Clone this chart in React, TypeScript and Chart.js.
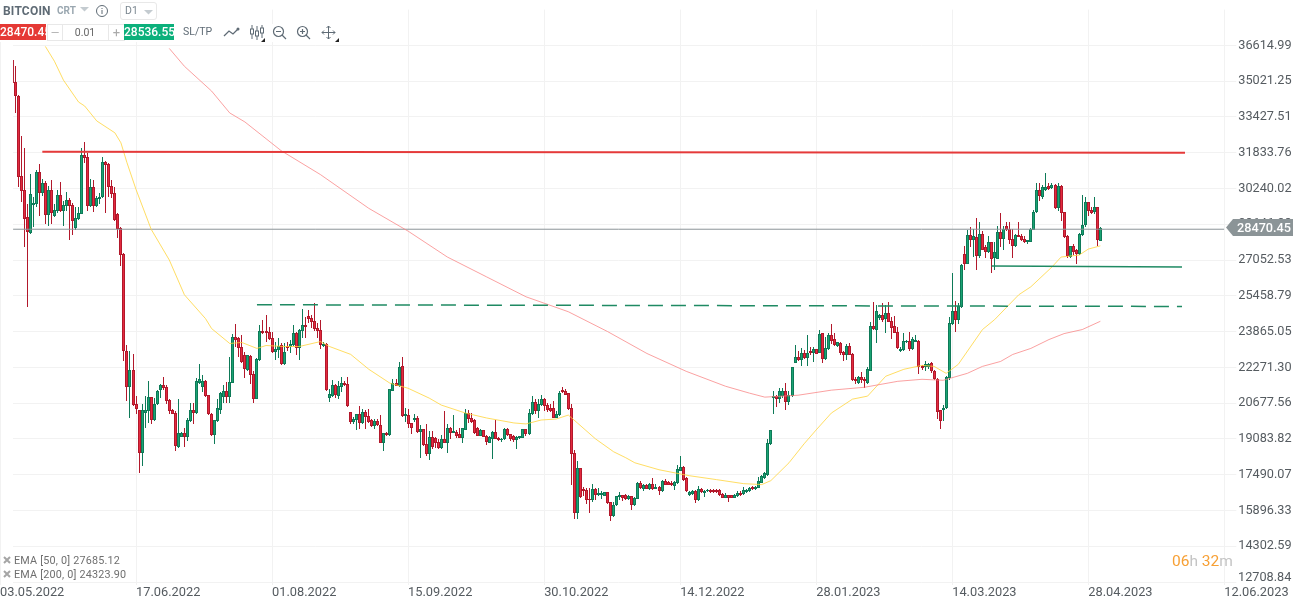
import React, { useEffect, useRef } from "react";
import { Chart, registerables } from "chart.js";

Chart.register(...registerables);

// Day number counted from 03.05.2022
const firstCandleDay = 4;

// [open, high, low, close]
const candles: number[][] = [
  [35950,35950,34700,34930],[34980,35690,33600,34360],[34360,34400,30290,30770],[30800,32570,29650,30140],
  [30180,32060,27630,28880],[28990,29550,24940,28290],[28260,30890,28220,30000],[29500,29840,28510,29610],
  [29550,31070,29400,30980],[30980,31320,29000,30030],[30030,30680,29920,30490],[30490,30580,28660,29060],
  [29060,30360,28560,30180],[30180,30620,28660,29150],[29030,29550,28960,29300],[29220,30180,29150,29960],
  [29960,30540,29210,29240],[29240,29700,28560,29500],[29440,30090,29250,29740],[29740,29810,27950,29470],
  [29520,29590,28150,28770],[28490,29400,28410,28930],[28880,29400,28850,29160],[29120,32060,29090,31730],
  [31730,32320,31390,31600],[31630,31835,29220,29470],[29470,30650,29400,30310],[30310,30610,29180,29470],
  [29440,29920,29400,29800],[29770,30060,29550,29860],[29860,31660,29830,31420],[31420,31470,29150,31290],
  [31330,31390,29840,30310],[30360,30610,29800,29990],[30050,30285,28810,28840],[29120,29150,28030,28440],
  [28490,28510,26790,27260],[27300,27360,22540,22980],[23000,23250,20770,21400],[21400,22980,20030,22170],
  [22170,22880,20560,20590],[20620,20990,20180,20430],[20350,20380,17550,18440],[18440,20620,17890,20350],
  [20250,20990,19590,20350],[20320,21650,19810,20940],[20940,20970,19730,19910],[19910,20910,19880,20650],
  [20620,21280,20590,21240],[21280,21550,20910,21500],[21500,21830,21280,21330],[21390,21500,20620,20770],
  [20800,20840,20180,20320],[20350,20400,20180,20210],[20250,20320,18550,18775],[18745,20840,18700,19340],
  [19170,19390,19150,19340],[19340,19590,18745,19190],[19190,20030,19000,19910],[19880,20690,19850,20350],
  [20350,20690,19730,20250],[20250,21800,20210,21650],[21580,22430,21550,21770],[21400,21950,21180,21680],
  [21680,21710,20960,20990],[21020,21050,20150,20180],[20210,20240,19220,19280],[19260,19940,18850,19910],
  [19880,20840,19850,20440],[20370,21165,20180,21140],[20970,21505,20690,21210],[21210,21620,20690,20960],
  [20960,22715,20690,21640],[21590,23750,21580,23645],[23615,24205,23200,23510],[23585,23615,22715,23130],
  [23190,23720,22480,22510],[22800,22935,21800,22200],[22170,22830,22095,22800],[22775,22800,21535,21950],
  [21990,22095,20690,20870],[20870,22685,20840,22655],[22610,24160,22570,23895],[23895,24380,23760,23790],
  [23895,24600,23420,23790],[23850,24090,23500,23525],[23570,23865,22910,22950],[22950,23420,22580,23100],
  [23055,23600,22685,23245],[23260,23350,22390,22420],[22420,23350,22390,22935],[23215,23420,22980,23130],
  [23170,23500,22910,23320],[23275,24160,23245,23805],[23805,23865,22830,23130],[23130,23970,22610,23940],
  [23895,24870,23570,24160],[24175,24530,23570,24060],[24560,24825,24235,24410],[24455,24600,24015,24280],
  [24340,25150,23895,23985],[24030,24235,23570,23880],[23940,24380,23100,23275],[23215,23420,23200,23320],
  [23320,23350,21240,21270],[20915,21285,20740,21105],[20990,21725,20945,21505],[21505,21535,20915,21020],
  [20990,21650,20840,21445],[21400,21830,21180,21590],[21590,21680,21430,21475],[21550,21830,20500,20560],
  [20265,20295,19765,19825],[19825,20060,19765,19955],[19910,20210,19470,20180],[20180,20545,19515,19810],
  [19810,20400,19765,20265],[20265,20355,19515,20060],[20090,20400,19795,19850],[19940,19985,19615,19675],
  [19675,19955,19515,19880],[19880,19955,19645,19690],[19705,20145,18895,18920],[18920,19365,18525,19335],
  [19335,19410,19205,19245],[19260,21315,19230,21285],[21240,21770,21210,21565],[21565,21770,21430,21460],
  [21430,22495,21400,22300],[22330,22730,20060,20090],[20090,20470,19840,20180],[20160,20400,19560,19765],
  [19810,19810,19320,19555],[19910,20205,19850,20000],[20015,20100,19350,19395],[19380,19705,18230,19515],
  [19515,19515,18775,18805],[18835,19735,18300,18405],[18405,19440,18140,19175],[19175,19440,18625,18730],
  [19145,19175,18700,18920],[18950,19070,18655,18670],[18670,19260,18640,19070],[19070,20325,18890,18920],
  [18920,19735,18435,19585],[19585,19615,19070,19365],[19365,20145,19335,19440],[19410,19470,19145,19230],
  [19290,19585,19115,19145],[19145,19585,18880,19555],[19480,20430,19470,20250],[20250,20355,19810,19985],
  [20030,20250,19810,19850],[19910,19985,19320,19365],[19585,19615,19220,19230],[19230,19515,19220,19470],
  [19470,19500,19175,19190],[19230,19260,18820,18935],[18920,19220,18880,19175],[19070,19440,18170,19380],
  [19380,19910,19070,19100],[19145,19175,18995,19025],[19025,19145,18965,19100],[19070,19555,19025,19515],
  [19515,19585,19220,19260],[19290,19320,18995,19070],[19220,19245,18965,19025],[19025,19220,18655,19175],
  [19145,19220,19100,19205],[19145,19540,19115,19515],[19515,19540,19220,19290],[19290,20400,19260,20235],
  [20175,20990,20145,20710],[20710,20840,20205,20325],[20325,20840,20030,20620],[20575,21030,20545,20855],
  [20855,20915,20325,20530],[20575,20695,20295,20355],[20470,20620,20295,20325],[20440,20765,20000,20030],
  [20030,20325,20000,20175],[20145,21240,20120,21120],[21270,21400,21150,21180],[21240,21285,21030,21060],
  [21120,21150,20355,20400],[20440,20620,17050,18405],[18435,18580,15515,15780],[15780,18110,15530,17770],
  [17770,17800,16460,16490],[16840,16930,16520,16750],[16810,16900,16190,16370],[16400,16900,15780,16340],
  [16340,17080,16265,16855],[16855,16900,16370,16590],[16590,16900,16520,16680],[16575,16750,16415,16665],
  [16560,16740,16530,16710],[16710,16740,16190,16220],[16265,16295,15425,15660],[15645,16265,15600,16150],
  [16120,16545,16075,16520],[16490,16710,16340,16605],[16590,16605,16310,16430],[16575,16635,16370,16385],
  [16385,16590,16370,16530],[16530,16560,15925,16135],[16135,16490,16105,16460],[16415,17180,16385,17120],
  [17120,17225,16870,16900],[16870,17080,16755,17050],[17035,17080,16840,16870],[16855,17110,16810,17080],
  [17080,17345,16825,16855],[16855,17080,16840,16960],[16960,17005,16605,16755],[16755,17255,16725,17225],
  [17225,17300,17020,17050],[17180,17225,17020,17050],[17135,17225,16990,17020],[17005,17225,16825,17180],
  [17105,17920,17080,17740],[17670,18330,17640,17815],[17845,17875,17225,17270],[17345,17375,16710,16785],
  [16575,16755,16560,16710],[16635,16810,16605,16785],[16785,16810,16250,16340],[16340,17005,16310,16855],
  [16855,16885,16665,16710],[16665,16810,16515,16785],[16755,16870,16710,16825],[16810,16855,16695,16725],
  [16810,16840,16695,16725],[16810,16840,16695,16725],[16810,16855,16560,16605],[16635,16665,16430,16460],
  [16460,16665,16430,16575],[16575,16605,16295,16460],[16575,16590,16430,16460],[16460,16620,16430,16575],
  [16530,16755,16515,16695],[16680,16755,16545,16575],[16635,16960,16605,16825],[16725,16855,16695,16825],
  [16755,16960,16725,16900],[16960,16990,16810,16840],[16840,16975,16825,16945],[16900,17400,16900,17225],
  [17135,17460,17105,17430],[17345,17595,17315,17550],[17490,19100,17445,18920],[18850,19500,18820,19470],
  [20885,21210,20205,20975],[20990,21030,20500,20840],[20840,21355,20690,21210],[20990,21355,20915,21210],
  [21210,21595,20385,20740],[20740,21210,20590,21060],[20975,22300,20945,22270],[22465,23275,22465,22745],
  [22745,22980,22570,22580],[22610,23130,22315,22920],[22920,23055,22655,22685],[22685,23720,22315,22920],
  [22980,23200,22830,22890],[22890,23200,22510,23100],[23070,23100,22860,22880],[22910,23940,22910,23760],
  [23790,23820,22465,22640],[22640,23645,22610,23140],[23085,23790,23055,23720],[23720,24205,23305,23465],
  [23525,23790,23245,23275],[23245,23420,23200,23380],[23365,23395,22800,22890],[22950,23010,22570,22800],
  [22800,23305,22580,23245],[23245,23350,22800,22830],[22880,22910,21650,21710],[21770,21830,21535,21650],
  [21580,21875,21535,21830],[21830,22065,21580,21725],[21770,21830,21355,21650],[21580,22270,21535,22200],
  [22125,24280,22095,24130],[24130,25195,23940,23985],[23940,25045,23350,24795],[24455,24635,24380,24600],
  [24600,25120,24310,24380],[24425,25045,23790,24710],[24710,25195,24280,24310],[24355,24530,23525,24045],
  [24100,24575,23790,23805],[23850,24090,23100,23130],[23010,23160,22950,23100],[23040,23790,23010,23455],
  [23380,23500,23350,23455],[23455,23835,23010,23085],[23085,23645,23040,23540],[23420,23720,23395,23500],
  [23455,23480,21975,22270],[22330,22360,22155,22240],[22270,22540,22095,22420],[22300,22465,22215,22420],
  [22465,22495,22020,22095],[22125,22155,21725,21770],[21770,21800,19955,20295],[20355,20385,19540,19880],
  [20370,20605,19865,20470],[20440,21875,20410,21845],[21785,24530,21725,24235],[24205,26480,24160,24780],
  [24780,25225,23865,24380],[24380,25150,24205,25000],[24955,26890,24910,26845],[27305,27675,26625,26890],
  [26890,28395,26860,28175],[28175,28515,27630,27950],[27950,28440,27185,28145],[28070,28910,26625,27215],
  [27215,28735,27155,28220],[28220,28365,27480,27510],[27630,27730,27155,27390],[27390,28145,27360,27835],
  [27835,27865,26490,27110],[27155,27850,26595,27405],[27110,28590,27110,28320],[28290,29135,27630,28010],
  [28010,28590,27480,28440],[28590,28765,28365,28410],[28440,28735,27775,27950],[27995,28440,27155,27660],
  [27660,28220,27630,28175],[28190,28735,28070,28100],[28145,28220,27895,27925],[27980,28145,27805,27835],
  [27835,27950,27775,27925],[27850,28485,27850,28440],[28410,29280,28395,29205],[29180,30505,29150,30180],
  [30180,30505,29695,29915],[29870,30400,29770,30285],[30180,30950,30135,30315],[30360,30505,30165,30210],
  [30240,30505,30210,30400],[30400,30430,29340,29370],[29370,30505,29250,30360],[30360,30390,28810,29150],
  [29180,29210,28040,28100],[28145,28175,27155,27215],[27185,27700,27155,27660],[27660,27775,27260,27405],
  [27480,27555,26890,27335],[27305,28250,27275,28220],[28160,29960,28145,28630],[28600,29840,28545,29620],
  [29620,29650,29030,29250],[29280,29400,29105,29150],[29180,29870,29105,29400],[29400,29430,27660,27925],
  [27895,28545,27895,28470],
];

const ema50Days = [15,18,21,26,28,32,38,40,42,45,50,56,61,68,70,76,80,85,88,94,99,106,109,116,122,129,135,142,146,154,161,170,174,179,184,188,191,197,203,207,210,218,228,237,246,252,255,261,266,270,275,282,287,293,299,305,309,313,317,325,329,337,341,348,351,357,360,364];
const ema50Values = [36570,35910,35065,34090,33915,33250,32720,32275,31390,30195,28425,27055,25505,24440,24000,23335,23380,23115,23245,23200,23200,23420,23200,22850,22185,21565,21340,20900,20590,20235,20015,19795,19750,19925,19970,20145,19795,19085,18510,18245,18020,17710,17445,17270,17090,17050,17225,18020,18865,19485,20235,20855,20990,21875,22185,22360,22315,22005,22405,23955,24395,25505,25860,26745,27185,27275,27540,27685];

const ema200Days = [56,61,70,76,81,93,106,122,135,148,161,174,188,201,214,227,240,248,253,264,275,286,297,305,312,320,325,331,335,341,347,352,358,364];
const ema200Values = [36480,35685,34580,33605,33205,31925,30860,29355,28340,27185,26300,25415,24750,23865,22890,22095,21430,21120,20945,21030,21255,21385,21650,21740,21695,22005,22315,22535,22845,23115,23510,23775,23955,24324];

const resistanceDays = [14, 392];
const resistanceValues = [31879, 31834];
const supportDays = [328, 391];
const supportValues = [26788, 26745];
const dashedDays = [85, 391];
const dashedValues = [25060, 24985];
const priceLineDays = [4.32, 405];
const priceLineValues = [28425, 28425];

const yTicks = [12708.84,14302.59,15896.33,17490.07,19083.82,20677.56,22271.30,23865.05,25458.79,27052.53,28646.28,30240.02,31833.76,33427.51,35021.25,36614.99];
const xTickDays = [0,45,90,135,180,225,270,315,360,405];
const xTickLabels = ["03.05.2022","17.06.2022","01.08.2022","15.09.2022","30.10.2022","14.12.2022","28.01.2023","14.03.2023","28.04.2023","12.06.2023"];

const RED_FILL = "#e32a3f";
const RED_DARK = "#b2182b";
const GREEN_FILL = "#1aa373";
const GREEN_DARK = "#0e7a58";
const FONT = "Roboto, sans-serif";

const pts = (xs: number[], ys: number[]) => xs.map((x, i) => ({ x, y: ys[i] }));

const snapBars = {
  id: "snapBars",
  beforeDatasetsDraw(chart: any) {
    chart.data.datasets.forEach((d: any, i: number) => {
      if (d.type !== "bar") return;
      chart.getDatasetMeta(i).data.forEach((el: any) => {
        el.x = Math.floor(el.x) + 0.5;
        el.y = Math.round(el.y);
        el.base = Math.round(el.base);
      });
    });
  },
};

const abs = (left: number, top: number, extra: React.CSSProperties = {}): React.CSSProperties => ({
  position: "absolute", left, top, whiteSpace: "nowrap", fontFamily: FONT, ...extra,
});

const Tri = ({ x, y }: { x: number; y: number }) => (
  <svg style={abs(x, y)} width={9} height={5}><polygon points="0,0 9,0 4.5,4.5" fill="#c4cbd0" /></svg>
);
const Corner = ({ x, y }: { x: number; y: number }) => (
  <svg style={abs(x, y)} width={4} height={4}><polygon points="4,0 4,4 0,4" fill="#222" /></svg>
);
const CloseMark = ({ y }: { y: number }) => (
  <svg style={abs(3, y)} width={8} height={8}>
    <path d="M1 1 L7 7 M7 1 L1 7" stroke="#a5a5a5" strokeWidth={2} />
  </svg>
);

export default function App() {
  const ref = useRef<HTMLCanvasElement>(null);
  useEffect(() => {
    const ctx = ref.current;
    if (!ctx) return;
    const days = candles.map((_, i) => firstCandleDay + i);
    const isUp = candles.map((c) => c[3] >= c[0]);
    const chart = new Chart(ctx, {
      type: "bar",
      plugins: [snapBars],
      data: {
        datasets: [
          {
            type: "bar", order: 4, barThickness: 1, grouped: false, inflateAmount: 0,
            data: candles.map((c, i) => ({ x: days[i], y: [c[2], c[1]] })),
            backgroundColor: isUp.map((u) => (u ? GREEN_DARK : RED_DARK)),
            borderWidth: 0,
          },
          {
            type: "bar", order: 3, barThickness: 3, grouped: false, inflateAmount: 0,
            data: candles.map((c, i) => ({ x: days[i], y: [c[0], c[3]] })),
            backgroundColor: isUp.map((u) => (u ? GREEN_FILL : RED_FILL)),
            borderColor: isUp.map((u) => (u ? GREEN_DARK : RED_DARK)),
            borderWidth: 1, borderSkipped: false,
          },
          { type: "line", order: 2, data: pts(priceLineDays, priceLineValues), borderColor: "#8b9497", borderWidth: 1, pointRadius: 0 },
          { type: "line", order: 1, data: pts(ema200Days, ema200Values), borderColor: "rgba(248,130,130,0.75)", borderWidth: 1, pointRadius: 0 },
          { type: "line", order: 1, data: pts(ema50Days, ema50Values), borderColor: "rgba(255,212,60,0.8)", borderWidth: 1, pointRadius: 0 },
          { type: "line", order: 0, data: pts(resistanceDays, resistanceValues), borderColor: "#e53a3a", borderWidth: 2, pointRadius: 0 },
          { type: "line", order: 0, data: pts(supportDays, supportValues), borderColor: "#1f8a63", borderWidth: 1.5, pointRadius: 0 },
          { type: "line", order: 0, data: pts(dashedDays, dashedValues), borderColor: "#1f8a63", borderWidth: 1.5, borderDash: [15, 8], pointRadius: 0 },
        ] as any,
      },
      options: {
        animation: false,
        responsive: false,
        devicePixelRatio: 1,
        layout: { padding: { top: 6, left: 0, right: 0, bottom: 0 } },
        plugins: { legend: { display: false }, tooltip: { enabled: false } },
        scales: {
          x: {
            type: "linear",
            offset: false,
            min: 4.32,
            max: 405,
            afterBuildTicks: (s: any) => { s.ticks = xTickDays.map((value) => ({ value })); },
            afterFit: (s: any) => { s.height = 14; },
            grid: { offset: false, color: "#f2f2f2", lineWidth: 1, tickLength: 3, drawTicks: true },
            border: { display: false },
            ticks: {
              autoSkip: false, maxRotation: 0, align: "start", padding: 0, color: "#555b60",
              font: { family: FONT, size: 12.8 },
              callback: (_v: any, i: number) => xTickLabels[i],
            },
          },
          y: {
            type: "linear",
            position: "right",
            min: 12708.84,
            max: 38208.7,
            afterBuildTicks: (s: any) => { s.ticks = yTicks.map((value) => ({ value })); },
            afterFit: (s: any) => { s.width = 75.7; },
            grid: { color: "#f2f2f2", lineWidth: 1, tickLength: 12 },
            border: { display: false },
            ticks: {
              autoSkip: false, padding: 2, color: "#555b60",
              font: { family: FONT, size: 12.7 },
              callback: (v: any) => (Number(v) === yTicks[0] ? "" : Number(v).toFixed(2)),
            },
          },
        },
      } as any,
    });
    return () => chart.destroy();
  }, []);

  const grey = "#5f6b75";
  return (
    <div style={{ position: "fixed", left: 0, top: 0, width: 1300, height: 596, background: "#fff", overflow: "hidden" }}>
      <canvas ref={ref} width={1300} height={596} style={{ display: "block", position: "absolute", left: 0, top: 0 }} />

      <div style={abs(0, 0, { width: 160, height: 24, background: "#fff" })} />
      <div style={abs(0, 24, { width: 340, height: 18, background: "#fff" })} />

      <div style={abs(3, 4, { fontSize: 12, fontWeight: 700, color: grey, letterSpacing: 0.2 })}>BITCOIN</div>
      <div style={abs(57, 5, { fontSize: 10, fontWeight: 700, color: "#9aa7b0" })}>CRT</div>
      <Tri x={80} y={7} />
      <svg style={abs(95, 4)} width={14} height={14}>
        <circle cx={7} cy={7} r={5.5} fill="none" stroke={grey} strokeWidth={1} />
        <path d="M7 6 V10 M7 4 V5" stroke={grey} strokeWidth={1} />
      </svg>
      <div style={abs(120, 2, { width: 35, height: 16, border: "1px solid #e8e8e8", borderRadius: 3 })} />
      <div style={abs(125, 4, { fontSize: 10.5, color: "#7b8790" })}>D1</div>
      <Tri x={144} y={10} />

      <div style={abs(0, 24, { width: 46, height: 16, background: "#e53935", color: "#fff", fontSize: 12, fontWeight: 500, lineHeight: "16px", textAlign: "center" })}>28470.45</div>
      <div style={abs(47, 24, { width: 14, height: 15, border: "1px solid #e8e8e8", color: "#aaa", fontSize: 11, lineHeight: "15px", textAlign: "center" })}>—</div>
      <div style={abs(62, 24, { width: 46, height: 15, borderTop: "1px solid #e8e8e8", borderBottom: "1px solid #e8e8e8", color: "#666", fontSize: 10.5, lineHeight: "16px", textAlign: "center" })}>0.01</div>
      <div style={abs(108, 24, { width: 15, height: 15, border: "1px solid #e8e8e8", color: "#aaa", fontSize: 13, lineHeight: "15px", textAlign: "center" })}>+</div>
      <div style={abs(124, 24, { width: 50, height: 16, background: "#0bb07b", color: "#fff", fontSize: 12, fontWeight: 500, lineHeight: "16px", textAlign: "center" })}>28536.55</div>
      <div style={abs(183, 25, { fontSize: 10.5, color: grey })}>SL/TP</div>

      <svg style={abs(223, 25)} width={18} height={14}>
        <path d="M1 11 L6 6 L10 9 L15 4" fill="none" stroke={grey} strokeWidth={1.3} />
        <circle cx={15} cy={4} r={1.5} fill={grey} />
      </svg>
      <svg style={abs(249, 25)} width={16} height={15}>
        <path d="M3 0 V14 M8 1 V15 M13 0 V13" stroke={grey} strokeWidth={1} />
        <rect x={1.5} y={4} width={3} height={5} fill="#fff" stroke={grey} />
        <rect x={6.5} y={6} width={3} height={5} fill="#fff" stroke={grey} />
        <rect x={11.5} y={3} width={3} height={5} fill="#fff" stroke={grey} />
      </svg>
      <Corner x={261} y={38} />
      <svg style={abs(272, 25)} width={16} height={15}>
        <circle cx={6.5} cy={6.5} r={5} fill="none" stroke={grey} strokeWidth={1.2} />
        <path d="M4 6.5 H9 M10 10 L14 14" stroke={grey} strokeWidth={1.2} />
      </svg>
      <svg style={abs(296, 25)} width={16} height={15}>
        <circle cx={6.5} cy={6.5} r={5} fill="none" stroke={grey} strokeWidth={1.2} />
        <path d="M4 6.5 H9 M6.5 4 V9 M10 10 L14 14" stroke={grey} strokeWidth={1.2} />
      </svg>
      <svg style={abs(321, 25)} width={15} height={15}>
        <path d="M7.5 1 V14 M1 7.5 H14 M5.5 3 L7.5 1 L9.5 3 M5.5 12 L7.5 14 L9.5 12 M3 5.5 L1 7.5 L3 9.5 M12 5.5 L14 7.5 L12 9.5" fill="none" stroke={grey} strokeWidth={1} />
      </svg>
      <Corner x={335} y={38} />

      <CloseMark y={556} />
      <div style={abs(14, 554, { fontSize: 10.8, color: "#6f6f6f", letterSpacing: 0.2 })}>EMA [50, 0] 27685.12</div>
      <CloseMark y={570} />
      <div style={abs(14, 568, { fontSize: 10.8, color: "#6f6f6f", letterSpacing: 0.2 })}>EMA [200, 0] 24323.90</div>

      <div style={abs(1172, 552, { fontSize: 15.5, color: "#c4c4c4" })}>
        <span style={{ color: "#f7a035" }}>06</span>h <span style={{ color: "#f7a035" }}>32</span>m
      </div>

      <svg style={abs(1226, 219)} width={67} height={17}>
        <polygon points="0,8.5 7,0 67,0 67,17 7,17" fill="#8b9497" />
      </svg>
      <div style={abs(1237, 220, { fontSize: 12.7, fontWeight: 500, color: "#fff", lineHeight: "15px" })}>28470.45</div>
      <div style={abs(1238, 569, { fontSize: 12.7, color: "#555b60", lineHeight: "15px" })}>12708.84</div>
    </div>
  );
}
